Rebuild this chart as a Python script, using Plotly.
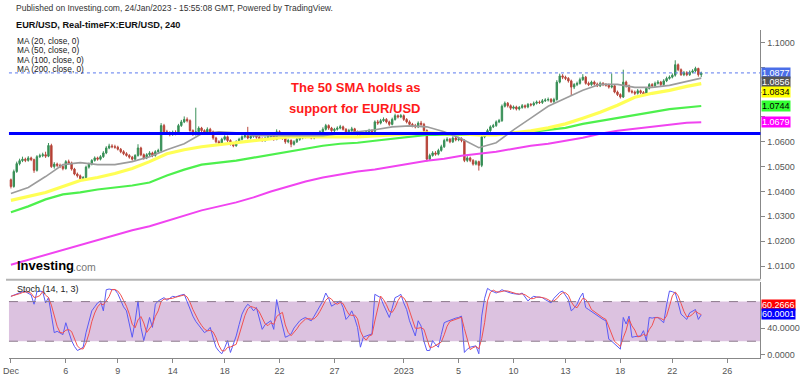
import pandas as pd
import plotly.graph_objects as go

# ---------------- data ----------------
FIRST_OPEN = 1.0447
CLOSE = [
    1.0420, 1.0480, 1.0512, 1.0524, 1.0530, 1.0525, 1.0535, 1.0528, 1.0485, 1.0540, 1.0544, 1.0548,
    1.0542, 1.0585, 1.0500, 1.0510, 1.0505, 1.0500, 1.0492, 1.0520, 1.0515, 1.0490, 1.0470, 1.0463,
    1.0452, 1.0456, 1.0498, 1.0510, 1.0525, 1.0535, 1.0530, 1.0540, 1.0555, 1.0575, 1.0583, 1.0580,
    1.0578, 1.0570, 1.0560, 1.0552, 1.0545, 1.0538, 1.0530, 1.0545, 1.0575, 1.0548, 1.0535, 1.0548,
    1.0555, 1.0545, 1.0560, 1.0565, 1.0665, 1.0640, 1.0635, 1.0630, 1.0638, 1.0632, 1.0665, 1.0680,
    1.0690, 1.0685, 1.0645, 1.0630, 1.0640, 1.0655, 1.0645, 1.0635, 1.0650, 1.0640, 1.0615, 1.0600,
    1.0595, 1.0610, 1.0620, 1.0605, 1.0590, 1.0584, 1.0600, 1.0610, 1.0620, 1.0625, 1.0615, 1.0622,
    1.0630, 1.0618, 1.0612, 1.0605, 1.0615, 1.0620, 1.0625, 1.0610, 1.0640, 1.0630, 1.0615, 1.0600,
    1.0605, 1.0590, 1.0600, 1.0610, 1.0615, 1.0620, 1.0625, 1.0620, 1.0615, 1.0625, 1.0630, 1.0640,
    1.0650, 1.0665, 1.0655, 1.0645, 1.0650, 1.0655, 1.0660, 1.0650, 1.0640, 1.0645, 1.0652, 1.0640,
    1.0630, 1.0620, 1.0635, 1.0640, 1.0645, 1.0642, 1.0680, 1.0675, 1.0685, 1.0690, 1.0680, 1.0670,
    1.0690, 1.0705, 1.0700, 1.0705, 1.0690, 1.0680, 1.0670, 1.0665, 1.0660, 1.0675, 1.0670, 1.0645,
    1.0530, 1.0545, 1.0555, 1.0550, 1.0565, 1.0580, 1.0605, 1.0610, 1.0600, 1.0615, 1.0608, 1.0612,
    1.0605, 1.0525, 1.0535, 1.0525, 1.0510, 1.0520, 1.0505, 1.0620, 1.0630, 1.0645, 1.0660, 1.0665,
    1.0680, 1.0685, 1.0743, 1.0755, 1.0745, 1.0735, 1.0740, 1.0732, 1.0738, 1.0745, 1.0740, 1.0750,
    1.0748, 1.0755, 1.0760, 1.0758, 1.0765, 1.0768, 1.0770, 1.0762, 1.0770, 1.0840, 1.0865, 1.0860,
    1.0855, 1.0845, 1.0820, 1.0830, 1.0835, 1.0850, 1.0860, 1.0835, 1.0830, 1.0840, 1.0832, 1.0825,
    1.0835, 1.0830, 1.0828, 1.0820, 1.0825, 1.0800, 1.0790, 1.0780, 1.0840, 1.0825, 1.0803, 1.0800,
    1.0795, 1.0805, 1.0798, 1.0790, 1.0815, 1.0830, 1.0825, 1.0835, 1.0840, 1.0830, 1.0845, 1.0855,
    1.0860, 1.0868, 1.0910, 1.0890, 1.0870, 1.0878, 1.0870, 1.0880, 1.0885, 1.0895, 1.0870, 1.0877,
]
HIGH = [
    1.0452, 1.0488, 1.0520, 1.0532, 1.0540, 1.0536, 1.0542, 1.0540, 1.0532, 1.0546, 1.0552, 1.0556,
    1.0560, 1.0595, 1.0592, 1.0518, 1.0516, 1.0512, 1.0506, 1.0526, 1.0528, 1.0520, 1.0495, 1.0476,
    1.0468, 1.0462, 1.0504, 1.0516, 1.0530, 1.0541, 1.0540, 1.0546, 1.0562, 1.0582, 1.0592, 1.0590,
    1.0588, 1.0584, 1.0575, 1.0566, 1.0558, 1.0550, 1.0543, 1.0550, 1.0590, 1.0580, 1.0553, 1.0554,
    1.0562, 1.0560, 1.0566, 1.0572, 1.0675, 1.0672, 1.0648, 1.0642, 1.0645, 1.0646, 1.0672, 1.0688,
    1.0702, 1.0698, 1.0690, 1.0650, 1.0737, 1.0662, 1.0660, 1.0650, 1.0658, 1.0656, 1.0645, 1.0620,
    1.0606, 1.0616, 1.0626, 1.0625, 1.0610, 1.0596, 1.0606, 1.0616, 1.0626, 1.0632, 1.0660, 1.0630,
    1.0638, 1.0635, 1.0624, 1.0618, 1.0621, 1.0628, 1.0634, 1.0630, 1.0650, 1.0646, 1.0635, 1.0620,
    1.0612, 1.0610, 1.0606, 1.0616, 1.0620, 1.0626, 1.0630, 1.0630, 1.0626, 1.0630, 1.0636, 1.0646,
    1.0658, 1.0672, 1.0670, 1.0660, 1.0656, 1.0662, 1.0668, 1.0665, 1.0655, 1.0652, 1.0660, 1.0656,
    1.0645, 1.0636, 1.0640, 1.0646, 1.0652, 1.0650, 1.0686, 1.0688, 1.0692, 1.0698, 1.0695, 1.0685,
    1.0697, 1.0713, 1.0710, 1.0712, 1.0710, 1.0695, 1.0686, 1.0676, 1.0672, 1.0682, 1.0684, 1.0676,
    1.0650, 1.0552, 1.0562, 1.0562, 1.0572, 1.0588, 1.0612, 1.0618, 1.0615, 1.0622, 1.0620, 1.0620,
    1.0618, 1.0610, 1.0542, 1.0540, 1.0530, 1.0526, 1.0524, 1.0628, 1.0638, 1.0652, 1.0666, 1.0672,
    1.0686, 1.0692, 1.0750, 1.0762, 1.0760, 1.0750, 1.0746, 1.0745, 1.0744, 1.0752, 1.0750, 1.0756,
    1.0756, 1.0762, 1.0766, 1.0766, 1.0772, 1.0775, 1.0778, 1.0776, 1.0777, 1.0848, 1.0874, 1.0872,
    1.0866, 1.0860, 1.0850, 1.0836, 1.0842, 1.0858, 1.0872, 1.0865, 1.0842, 1.0846, 1.0846, 1.0838,
    1.0842, 1.0840, 1.0836, 1.0834, 1.0875, 1.0830, 1.0806, 1.0795, 1.0890, 1.0846, 1.0830, 1.0810,
    1.0806, 1.0812, 1.0810, 1.0804, 1.0820, 1.0836, 1.0836, 1.0842, 1.0848, 1.0845, 1.0852, 1.0862,
    1.0867, 1.0875, 1.0928, 1.0915, 1.0895, 1.0885, 1.0884, 1.0887, 1.0892, 1.0902, 1.0898, 1.0882,
]
LOW = [
    1.0412, 1.0415, 1.0475, 1.0505, 1.0518, 1.0518, 1.0520, 1.0522, 1.0475, 1.0480, 1.0535, 1.0538,
    1.0535, 1.0538, 1.0495, 1.0492, 1.0498, 1.0494, 1.0485, 1.0488, 1.0508, 1.0484, 1.0465, 1.0456,
    1.0443, 1.0446, 1.0450, 1.0492, 1.0505, 1.0520, 1.0524, 1.0525, 1.0535, 1.0550, 1.0570, 1.0574,
    1.0572, 1.0565, 1.0554, 1.0546, 1.0540, 1.0532, 1.0524, 1.0526, 1.0540, 1.0542, 1.0528, 1.0530,
    1.0542, 1.0538, 1.0540, 1.0555, 1.0558, 1.0632, 1.0628, 1.0622, 1.0624, 1.0626, 1.0628, 1.0660,
    1.0675, 1.0678, 1.0640, 1.0624, 1.0625, 1.0635, 1.0638, 1.0628, 1.0630, 1.0634, 1.0608, 1.0594,
    1.0588, 1.0590, 1.0605, 1.0598, 1.0585, 1.0578, 1.0580, 1.0595, 1.0605, 1.0614, 1.0610, 1.0610,
    1.0616, 1.0612, 1.0606, 1.0600, 1.0600, 1.0610, 1.0614, 1.0604, 1.0606, 1.0624, 1.0608, 1.0592,
    1.0594, 1.0578, 1.0585, 1.0595, 1.0604, 1.0610, 1.0614, 1.0615, 1.0610, 1.0610, 1.0620, 1.0625,
    1.0635, 1.0645, 1.0648, 1.0640, 1.0638, 1.0645, 1.0650, 1.0645, 1.0634, 1.0635, 1.0640, 1.0634,
    1.0624, 1.0615, 1.0615, 1.0630, 1.0635, 1.0636, 1.0638, 1.0668, 1.0670, 1.0680, 1.0674, 1.0664,
    1.0666, 1.0685, 1.0694, 1.0695, 1.0684, 1.0674, 1.0664, 1.0658, 1.0654, 1.0655, 1.0664, 1.0638,
    1.0520, 1.0524, 1.0540, 1.0544, 1.0545, 1.0560, 1.0575, 1.0600, 1.0594, 1.0595, 1.0602, 1.0602,
    1.0598, 1.0518, 1.0518, 1.0518, 1.0504, 1.0505, 1.0484, 1.0498, 1.0614, 1.0625, 1.0640, 1.0655,
    1.0660, 1.0675, 1.0680, 1.0738, 1.0738, 1.0728, 1.0730, 1.0726, 1.0726, 1.0733, 1.0734, 1.0735,
    1.0742, 1.0743, 1.0750, 1.0752, 1.0752, 1.0760, 1.0762, 1.0756, 1.0756, 1.0765, 1.0835, 1.0852,
    1.0848, 1.0838, 1.0785, 1.0812, 1.0824, 1.0830, 1.0845, 1.0830, 1.0824, 1.0825, 1.0826, 1.0820,
    1.0820, 1.0824, 1.0822, 1.0814, 1.0815, 1.0795, 1.0784, 1.0774, 1.0776, 1.0818, 1.0798, 1.0794,
    1.0788, 1.0790, 1.0792, 1.0784, 1.0786, 1.0810, 1.0818, 1.0820, 1.0830, 1.0824, 1.0825, 1.0840,
    1.0850, 1.0855, 1.0862, 1.0884, 1.0865, 1.0864, 1.0864, 1.0865, 1.0875, 1.0880, 1.0862, 1.0860,
]

# moving averages, sampled once per trading day (every 6th 4h candle) plus the last candle
MA20 = [1.0392, 1.0416, 1.0460, 1.0508, 1.0516, 1.0508, 1.0508, 1.0520, 1.0540, 1.0568,
        1.0592, 1.0632, 1.0640, 1.0636, 1.0624, 1.0624, 1.0624, 1.0624, 1.0624, 1.0632,
        1.0640, 1.0648, 1.0660, 1.0664, 1.0660, 1.0640, 1.0612, 1.0576, 1.0596, 1.0648,
        1.0695, 1.0743, 1.0775, 1.0807, 1.0831, 1.0831, 1.0819, 1.0819, 1.0827, 1.0843, 1.0856]
MA50 = [1.0364, 1.0380, 1.0396, 1.0420, 1.0444, 1.0456, 1.0472, 1.0492, 1.0520, 1.0552,
        1.0568, 1.0580, 1.0588, 1.0596, 1.0604, 1.0612, 1.0620, 1.0620, 1.0620, 1.0620,
        1.0620, 1.0624, 1.0628, 1.0632, 1.0636, 1.0632, 1.0632, 1.0628, 1.0628, 1.0636,
        1.0644, 1.0656, 1.0672, 1.0695, 1.0719, 1.0747, 1.0779, 1.0795, 1.0807, 1.0823, 1.0834]
MA100 = [1.0316, 1.0340, 1.0368, 1.0388, 1.0396, 1.0408, 1.0416, 1.0424, 1.0436, 1.0464,
         1.0488, 1.0508, 1.0516, 1.0524, 1.0536, 1.0548, 1.0560, 1.0572, 1.0584, 1.0592,
         1.0596, 1.0604, 1.0612, 1.0620, 1.0628, 1.0628, 1.0628, 1.0628, 1.0628, 1.0636,
         1.0640, 1.0648, 1.0656, 1.0672, 1.0683, 1.0695, 1.0707, 1.0719, 1.0731, 1.0739, 1.0744]
MA200 = [1.0105, 1.0125, 1.0145, 1.0165, 1.0184, 1.0204, 1.0224, 1.0244, 1.0260, 1.0281,
         1.0304, 1.0324, 1.0340, 1.0356, 1.0376, 1.0400, 1.0420, 1.0440, 1.0456, 1.0468,
         1.0480, 1.0488, 1.0500, 1.0512, 1.0524, 1.0532, 1.0544, 1.0552, 1.0560, 1.0572,
         1.0584, 1.0592, 1.0604, 1.0616, 1.0632, 1.0644, 1.0652, 1.0660, 1.0668, 1.0676, 1.0679]

SUPPORT = 1.0633

# Stochastic (14, 1, 3) %K per candle
STOCH_K = [
    88, 90, 92, 94, 95, 95, 93, 90, 76, 95, 96, 95,
    78, 86, 60, 33, 35, 32, 30, 48, 35, 21, 12, 6,
    8, 11, 33, 50, 66, 72, 78, 81, 66, 98, 99, 98,
    98, 92, 81, 72, 66, 45, 26, 50, 81, 41, 21, 38,
    56, 41, 76, 81, 84, 86, 82, 85, 88, 87, 89, 90,
    91, 80, 66, 58, 50, 44, 38, 33, 36, 41, 25, 11,
    5, 1, 10, 21, 3, 15, 28, 45, 61, 70, 76, 72,
    66, 71, 56, 38, 45, 48, 51, 38, 83, 62, 46, 26,
    28, 31, 40, 45, 51, 54, 56, 53, 51, 58, 66, 72,
    81, 93, 85, 73, 76, 79, 81, 71, 53, 58, 66, 55,
    41, 11, 26, 28, 30, 31, 91, 88, 86, 75, 65, 56,
    70, 86, 88, 91, 78, 68, 51, 40, 28, 51, 43, 20,
    6, 6, 21, 15, 11, 30, 48, 50, 52, 53, 55, 56,
    58, 3, 8, 11, 12, 13, 1, 58, 85, 100, 97, 95,
    93, 95, 98, 96, 94, 93, 92, 91, 91, 93, 87, 81,
    85, 88, 87, 86, 86, 83, 80, 78, 85, 90, 94, 96,
    90, 83, 66, 70, 76, 86, 93, 71, 68, 65, 61, 58,
    55, 53, 51, 23, 20, 16, 12, 8, 56, 46, 58, 26,
    27, 27, 28, 36, 21, 56, 55, 56, 56, 52, 48, 75,
    96, 95, 93, 78, 61, 57, 53, 63, 66, 68, 53, 60,
]
STOCH_D_LAST = "60.2666"
STOCH_K_LAST = "60.0001"

PRICE_TICKS = [1.01, 1.02, 1.03, 1.04, 1.05, 1.06, 1.07, 1.08, 1.09, 1.10]
PRICE_TICKS_COVERED = [1.07, 1.08, 1.09]   # hidden behind the last-value tags in the reference
STOCH_TICKS = [0, 40]
TICK_DATES = ["2022-12-01", "2022-12-06", "2022-12-09", "2022-12-14", "2022-12-18",
              "2022-12-22", "2022-12-27", "2023-01-01", "2023-01-05", "2023-01-10",
              "2023-01-13", "2023-01-18", "2023-01-22", "2023-01-26"]
TICK_TEXT = ["Dec", "6", "9", "14", "18", "22", "27", "2023", "5", "10", "13", "18", "22", "26"]

# ---------------- build ----------------
FONT = "Arial, Liberation Sans, sans-serif"
n = len(CLOSE)
idx = list(range(n))
opens = [FIRST_OPEN] + CLOSE[:-1]
stoch_d = pd.Series(STOCH_K).rolling(3, min_periods=1).mean().tolist()
ma_idx = list(range(0, n, 6)) + [n - 1]

# FX 4h trading sessions (Sunday evening open, Saturday closed)
sessions = []
for t in pd.date_range("2022-12-01", "2023-01-31", freq="4h"):
    wd = t.weekday()
    if wd == 5 or (wd == 6 and t.hour != 20):
        continue
    sessions.append(t.strftime("%Y-%m-%d"))
tick_idx = [sessions.index(d) for d in TICK_DATES]

W, H = 800, 376
X0, X1 = 3, 764
XR = [-0.68, 259.5]
def py(px):
    return 1 - px / H

fig = go.Figure()
ma_styles = [(MA200, "#f044f0", 2), (MA100, "#4df04d", 2.2), (MA50, "#ffff55", 3.2), (MA20, "#9c9c9c", 1.6)]
for vals, col, w in ma_styles:
    fig.add_trace(go.Scatter(x=ma_idx, y=vals, mode="lines", line=dict(color=col, width=w),
                             xaxis="x", yaxis="y", hoverinfo="skip"))

fig.add_trace(go.Candlestick(
    x=idx, open=opens, high=HIGH, low=LOW, close=CLOSE, xaxis="x", yaxis="y",
    increasing=dict(line=dict(color="#3a9058", width=1), fillcolor="#2e8b50"),
    decreasing=dict(line=dict(color="#b8473c", width=1), fillcolor="#b23a2e"),
    whiskerwidth=0))

fig.add_trace(go.Scatter(x=idx, y=STOCH_K, mode="lines", line=dict(color="#5a5af5", width=1),
                         xaxis="x2", yaxis="y2", hoverinfo="skip"))
fig.add_trace(go.Scatter(x=idx, y=stoch_d, mode="lines", line=dict(color="#f05050", width=1),
                         xaxis="x2", yaxis="y2", hoverinfo="skip"))

shapes = [
    dict(type="rect", xref="paper", yref="y2", x0=X0 / W, x1=X1 / W, y0=20, y1=80,
         fillcolor="#dcc2e0", line=dict(width=0), layer="below"),
    dict(type="line", xref="paper", yref="y2", x0=X0 / W, x1=X1 / W, y0=80, y1=80,
         line=dict(color="#8c7a8c", width=1, dash="dash")),
    dict(type="line", xref="paper", yref="y2", x0=X0 / W, x1=X1 / W, y0=20, y1=20,
         line=dict(color="#8c7a8c", width=1, dash="dash")),
    dict(type="line", xref="paper", yref="paper", x0=0, x1=X1 / W, y0=py(282), y1=py(282),
         line=dict(color="#b4b4b4", width=2)),
    dict(type="line", xref="paper", yref="y", x0=X0 / W, x1=X1 / W, y0=CLOSE[-1], y1=CLOSE[-1],
         line=dict(color="#5a78ee", width=1, dash="dot")),
    dict(type="line", xref="paper", yref="y", x0=X0 / W, x1=X1 / W, y0=SUPPORT, y1=SUPPORT,
         line=dict(color="#0000ff", width=3), layer="above"),
]

ann = []
def txt(x, y, s, size=9, color="#222", xanchor="left", bold=False):
    ann.append(dict(xref="paper", yref="paper", x=x / W, y=py(y), text=(f"<b>{s}</b>" if bold else s),
                    showarrow=False, xanchor=xanchor, yanchor="middle",
                    font=dict(family=FONT, size=size, color=color)))

txt(8, 8, "Published on Investing.com, 24/Jan/2023 - 15:55:08 GMT, Powered by TradingView.", 8.5, "#333")
txt(8, 25, "EUR/USD, Real-timeFX:EUR/USD, 240", 9.2, "#111", bold=True)
for y, s in [(41, "MA (20, close, 0)"), (50.5, "MA (50, close, 0)"),
             (60, "MA (100, close, 0)"), (69.5, "MA (200, close, 0)")]:
    txt(9, y, s, 8.3, "#222")
txt(354, 88, "The 50 SMA holds as", 13, "#ff1a1a", "center", True)
txt(353, 109, "support for EUR/USD", 13, "#ff1a1a", "center", True)
txt(9, 268, "Investing", 13, "#000", bold=True)
txt(66, 269, ".com", 10.5, "#777")
txt(9, 291, "Stoch (14, 1, 3)", 9, "#222")

def tag(yref, val, text, bg, fg, shift=0):
    ann.append(dict(xref="paper", yref=yref, x=(X1 + 1) / W, y=val, text=text, showarrow=False,
                    xanchor="left", yanchor="middle", yshift=shift, bgcolor=bg, borderpad=0,
                    font=dict(family=FONT, size=9, color=fg)))

tag("y", CLOSE[-1], f"{CLOSE[-1]:.4f}", "#4a6ee8", "white")
tag("y", MA20[-1], f"{MA20[-1]:.4f}", "#555555", "white", -4)
tag("y", MA50[-1], f"{MA50[-1]:.4f}", "#ffff00", "black", -8)
tag("y", MA100[-1], f"{MA100[-1]:.4f}", "#33ff33", "black")
tag("y", MA200[-1], f"{MA200[-1]:.4f}", "#ff00ff", "white")
tag("y2", STOCH_K[-1], STOCH_D_LAST, "#ff0000", "white", 10)
tag("y2", STOCH_K[-1], STOCH_K_LAST, "#0000ff", "white", 1)

price_text = ["" if v in PRICE_TICKS_COVERED else f"{v:.4f}" for v in PRICE_TICKS]
axis_common = dict(showgrid=False, zeroline=False, tickfont=dict(family=FONT, size=9, color="#555"))
fig.update_layout(
    width=W, height=H, margin=dict(l=0, r=0, t=0, b=0),
    paper_bgcolor="white", plot_bgcolor="white", showlegend=False,
    shapes=shapes, annotations=ann,
    xaxis=dict(domain=[X0 / W, X1 / W], range=XR, anchor="y", showticklabels=False,
               rangeslider=dict(visible=False), **axis_common),
    yaxis=dict(domain=[py(281), py(30)], range=[1.00487, 1.10507], side="right", anchor="x",
               tickvals=PRICE_TICKS, ticktext=price_text,
               ticks="outside", ticklen=4, tickcolor="#888", showline=True, linecolor="#888",
               linewidth=1, **axis_common),
    xaxis2=dict(domain=[X0 / W, X1 / W], range=XR, anchor="y2", tickvals=tick_idx, ticktext=TICK_TEXT,
                ticks="outside", ticklen=4, tickcolor="#888", showline=True, linecolor="#888",
                linewidth=1, ticklabeloverflow="allow", **axis_common),
    yaxis2=dict(domain=[py(361), py(284)], range=[-5.56, 110.06], side="right", anchor="x2",
                tickvals=STOCH_TICKS, ticktext=[f"{v:.4f}" for v in STOCH_TICKS],
                ticks="outside", ticklen=4, tickcolor="#888", showline=True, linecolor="#888",
                linewidth=1, **axis_common),
)

fig.write_html("out.html", config={"displayModeBar": False},
               post_script="document.body.style.margin='0';document.body.style.overflow='hidden';")
